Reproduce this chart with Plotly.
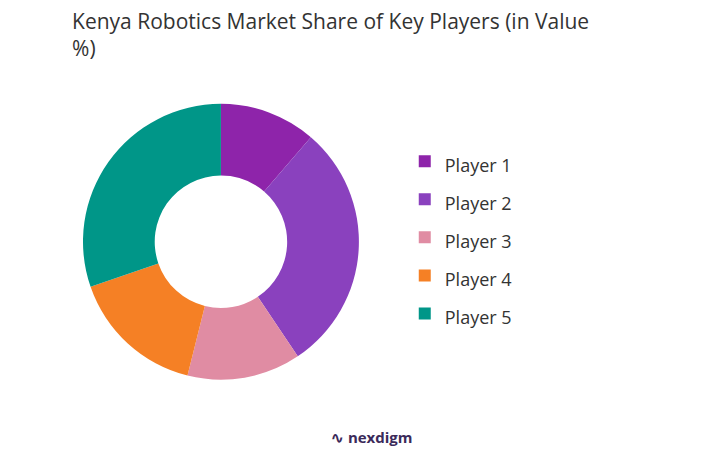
import plotly.graph_objects as go

players = ["Player 1", "Player 2", "Player 3", "Player 4", "Player 5"]
shares = [11.3, 29.3, 13.3, 15.8, 30.3]
colors = ["#8E24AA", "#8A41BE", "#E08CA3", "#F58025", "#009688"]

labels = ["<span style='font-size:18px'>%s</span>" % p for p in players]

fig = go.Figure(go.Pie(
    labels=labels, values=shares, hole=0.48, sort=False, direction="clockwise",
    rotation=0, marker=dict(colors=colors), textinfo="none", hoverinfo="percent",
    domain=dict(x=[0.103, 0.482], y=[0.195, 0.793]),
))

fig.update_layout(
    width=728, height=462, paper_bgcolor="white", plot_bgcolor="white",
    margin=dict(l=0, r=0, t=0, b=0),
    title=dict(text="Kenya Robotics Market Share of Key Players (in Value<br>%)",
               x=0.088, y=0.955, xanchor="left", yanchor="top",
               font=dict(family="Open Sans", size=21, color="#333333")),
    legend=dict(x=0.545, y=0.503, xanchor="left", yanchor="middle",
                font=dict(family="Open Sans", size=27, color="#333333")),
    annotations=[dict(text="<b>∿ nexdigm</b>", x=0.5, y=0.045, xref="paper", yref="paper",
                      showarrow=False, font=dict(family="Open Sans", size=15, color="#3b2a5a"))],
)

fig.write_html("out.html")
